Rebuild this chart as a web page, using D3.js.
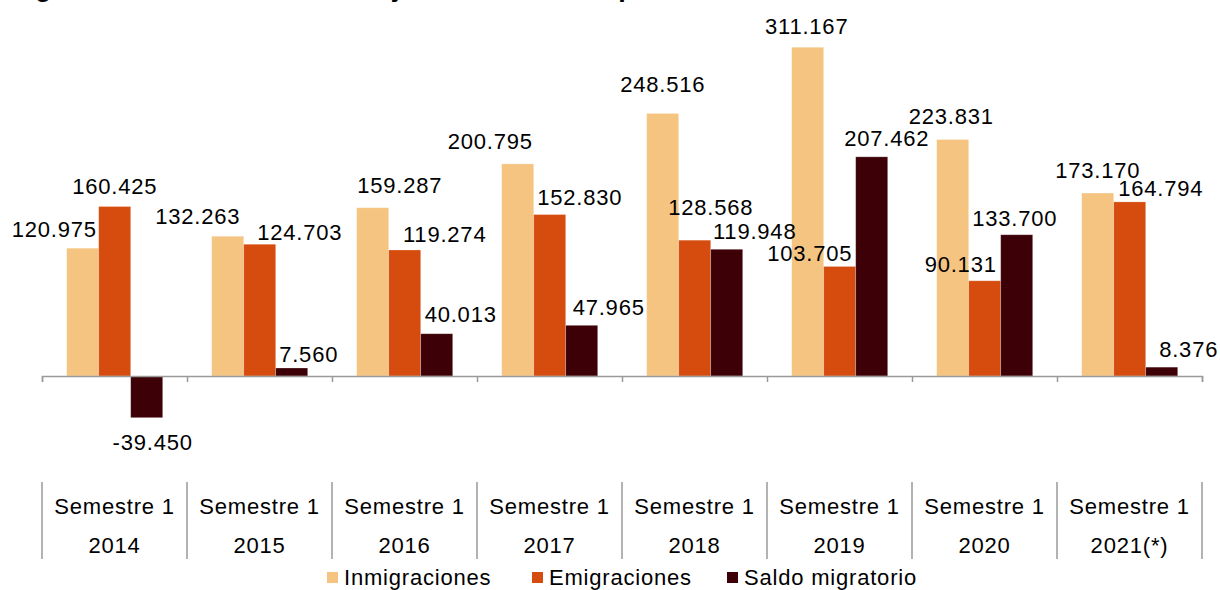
<!DOCTYPE html>
<html>
<head>
<meta charset="utf-8">
<script src="https://cdn.jsdelivr.net/npm/d3@7"></script>
<style>
  body { margin: 0; background: #fff; }
  svg text { font-family: "Liberation Sans", Arial, sans-serif; fill: #000; }
</style>
</head>
<body>
<div id="chart"></div>
<script>
// data
var categories = ["2014", "2015", "2016", "2017", "2018", "2019", "2020", "2021(*)"];
var semestre = "Semestre 1";
var seriesNames = ["Inmigraciones", "Emigraciones", "Saldo migratorio"];
var inmigraciones = [120975, 132263, 159287, 200795, 248516, 311167, 223831, 173170];
var emigraciones = [160425, 124703, 119274, 152830, 128568, 103705, 90131, 164794];
var saldo = [-39450, 7560, 40013, 47965, 119948, 207462, 133700, 8376];
var titulo = "Migración exterior de extranjeros durante el primer semestre de cada año";

var colors = ["#F5C481", "#D64C0E", "#3D0006"];

// label nudges (dx, baseline offset from bar end), as placed in the original
var labelNudge = [
  [[-28.5, -11.6], [-30, -12.7], [27, -15], [-27.5, -15], [0, -21.6], [-1, -13.7], [-1.5, -16], [0, -15.3]],
  [[0, -12.7], [40, -4.3], [40, -8.3], [30, -10], [16, -25], [-30, -5], [-24, -8.3], [31, -6]],
  [[6, 32.3], [17, -6.3], [24, -11.3], [27, -10], [28, -10], [15, -10.7], [-2, -8.3], [27, -10]]
];

var svgWidth = 1220;
var svgHeight = 590;
var left = 42, right = 1202, zeroY = 376, k = 0.0010565;

var svg = d3.select("#chart")
  .append("svg")
  .attr("width", svgWidth)
  .attr("height", svgHeight);

var es = d3.formatLocale({ decimal: ",", thousands: ".", grouping: [3], currency: ["", " €"], minus: "-" });
var fmt = es.format(",d");

var xBand = d3.scaleBand().domain(categories).range([left, right]);
var xSeries = d3.scaleBand().domain(seriesNames).range([24.7, 120.7]);
var y = d3.scaleLinear()
  .domain([-80000, 350000])
  .range([zeroY + 80000 * k, zeroY - 350000 * k]);

var seriesValues = [inmigraciones, emigraciones, saldo];

// title (cut off at the top in the original, only descenders show)
svg.append("text")
  .attr("x", 3)
  .attr("y", -4)
  .style("font-size", "27px")
  .style("font-weight", "bold")
  .style("letter-spacing", "1px")
  .text(titulo);

// bars
seriesValues.forEach(function(vals, s) {
  var g = svg.append("g");
  g.selectAll("rect")
    .data(vals)
    .enter()
    .append("rect")
    .attr("x", (d, i) => xBand(categories[i]) + xSeries(seriesNames[s]))
    .attr("y", d => y(Math.max(0, d)))
    .attr("width", xSeries.bandwidth())
    .attr("height", d => Math.abs(y(d) - y(0)))
    .attr("fill", colors[s])
    .attr("stroke", "#fff")
    .attr("stroke-opacity", 0.3)
    .attr("stroke-width", 0.8);

  g.selectAll("text")
    .data(vals)
    .enter()
    .append("text")
    .attr("x", (d, i) => xBand(categories[i]) + xSeries(seriesNames[s]) + xSeries.bandwidth() / 2 + labelNudge[s][i][0])
    .attr("y", (d, i) => y(d) + labelNudge[s][i][1])
    .attr("text-anchor", "middle")
    .style("font-size", "22px")
    .style("letter-spacing", "0.8px")
    .text(d => fmt(d));
});

// x axis with ticks at category boundaries
var edge = d3.scaleLinear().domain([0, categories.length]).range([left, right]);
var axis = svg.append("g")
  .attr("transform", `translate(0, ${zeroY})`)
  .call(d3.axisBottom(edge).ticks(categories.length).tickSize(6).tickFormat(""));
axis.selectAll("path, line").attr("stroke", "#9a9a9a").attr("stroke-width", 1.5);

// category table below
var table = svg.append("g");
table.selectAll("line")
  .data(d3.range(categories.length + 1))
  .enter()
  .append("line")
  .attr("x1", d => edge(d))
  .attr("x2", d => edge(d))
  .attr("y1", 482)
  .attr("y2", 559)
  .attr("stroke", "#9a9a9a")
  .attr("stroke-width", 1.5);

table.selectAll("text.sem")
  .data(categories)
  .enter()
  .append("text")
  .attr("class", "sem")
  .attr("x", d => xBand(d) + xBand.bandwidth() / 2)
  .attr("y", 514)
  .attr("text-anchor", "middle")
  .style("font-size", "22px")
  .style("letter-spacing", "0.8px")
  .text(semestre);

table.selectAll("text.yr")
  .data(categories)
  .enter()
  .append("text")
  .attr("class", "yr")
  .attr("x", d => xBand(d) + xBand.bandwidth() / 2)
  .attr("y", 553)
  .attr("text-anchor", "middle")
  .style("font-size", "22px")
  .style("letter-spacing", "0.8px")
  .text(d => d);

// legend
var legendX = [327, 532, 727];
var legend = svg.selectAll("g.legend")
  .data(seriesNames)
  .enter()
  .append("g")
  .attr("class", "legend")
  .attr("transform", (d, i) => `translate(${legendX[i]}, 572)`);
legend.append("rect")
  .attr("width", 11)
  .attr("height", 11)
  .attr("fill", (d, i) => colors[i]);
legend.append("text")
  .attr("x", 17)
  .attr("y", 13)
  .style("font-size", "22px")
  .style("letter-spacing", "0.8px")
  .text(d => d);
</script>
</body>
</html>
